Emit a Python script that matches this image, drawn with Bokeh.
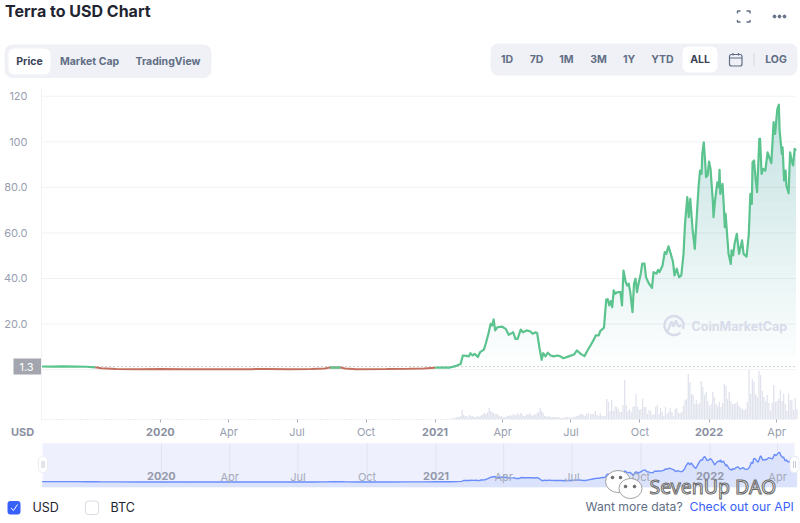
import numpy as np
import pandas as pd
from bokeh.embed import file_html
from bokeh.resources import INLINE
from bokeh.plotting import figure
from bokeh.core.properties import value
from bokeh.models import Range1d, LinearAxis, FixedTicker

# ---------- data ----------
START = pd.Timestamp("2019-07-26")
price_day = [0,15,30,45,60,72,80,100,130,160,190,220,250,280,300,330,360,378,385,399,405,420,460,490,510,525,532,545,552,559,
 562,567,570,572,575,578,582,585,590,593,596,599,601,603,605,608,614,619,623,627,629,632,635,639,642,647,652,655,659,661,664,667,669,672,675,679,683,688,692,696,703,710,714,719,724,728,732,
 737,739,743,745,750,753,755,757,759,761,763,765,768,772,774,776,779,781,783,785,788,790,792,794,796,799,801,804,806,810,814,816,820,822,824,828,831,833,836,839,842,844,847,850,853,856,858,861,863,865,868,871,873,876,878,880,881,883,885,886,888,890,892,895,896,898,901,903,904,905,908,910,911,912,916,919,920,922,924,927,930,934,936,940,943,945,947,948,950,952,954,957,958,960,962,965,968,971,973,976,978,981,983,984,987,988,990,992,993,996,998,1000,1002,1004,1006]
price_usd = [1.35,1.3,1.4,1.3,1.25,1.0,0.6,0.3,0.2,0.25,0.15,0.2,0.15,0.2,0.25,0.2,0.25,0.5,0.9,0.9,0.5,0.2,0.25,0.35,0.5,0.85,0.9,0.9,1.5,2.5,
 6.2,6.0,5.8,7.2,6.2,6.9,5.5,7.7,8.8,12.0,15.7,20.1,19.4,22.0,17.2,18.6,18.9,17.9,15.3,16.0,16.4,13.5,13.5,17.6,16.4,17.2,16.7,15.7,16.4,16.0,9.6,4.3,7.2,5.8,7.4,6.2,5.8,6.2,5.8,5.0,5.8,6.6,8.4,6.9,5.9,8.4,10.6,
 13.5,15.0,15.0,16.9,18.4,30.7,30.9,28.2,30.1,27.4,34.8,33.3,34.0,34.0,28.2,43.5,38.4,36.9,37.7,34.0,25.2,37.7,39.9,34.0,37.7,42.1,46.5,46.5,40.6,37.7,35.9,42.8,42.1,43.8,42.8,45.7,51.6,50.8,54.1,50.8,47.2,41.3,44.3,40.6,41.3,50.8,64,75.7,66.9,75,61.8,53,64,80,87.4,85.9,94.7,99.8,90.3,84.5,85.2,91.3,88.1,74.2,66.9,74.2,82.2,80,87.7,77.1,81.5,69.8,62.5,68.4,50.8,46.4,52.3,50.1,55.2,59.6,50.8,56.7,50.8,49.6,59.6,77.1,72.7,91,91.8,83.7,77.9,101.3,101.3,85.9,88.1,87.4,95.4,92.5,90.6,108.6,103.5,114.4,116.3,105,94.7,97.6,83,87.4,80.8,77.4,95.4,91.8,89.6,96.9,96.2]

volume_a = [.5,.5,1,1,1.5,2,2,3,9,4,3,3,2,4,3,3,2,2,3,2,3,4,5,6,5,7,11,8,7,6,5,5,4,3,3,2,2,2,3,3,4,3,5,4,4,6,4,6,5,3,3,5,4,6,4,3,5,4,6,7,11,8,6,3,3,2,3,2,2,2,2,2,1.5,1.5,1,1,1.5,2,2,1.5,1.5,1.5,2,2,3,3,4,5,5,4,3,5,6]
volume_b = [5,5,5,8,4,3,6,3,3,3,20,17,8,19,8,13,12,10,7,7,14,39,14,8,10,7,12,13,25,12,9,10,20,12,12,5,9,8,4,5,12,14,5,11,7,3,12,5,7,11,7,3,10,11,6,6,7,13,19,20,45,37,25,24,15]
volume_c = [19,15,16,38,32,24,27,18,13,15,27,22,15,13,17,12,16,35,33,20,27,18,15,15,16,17,13,11,10,9,10,17,49,25,40,37,25,22,48,44,28,22,18,24,16,8,16,34,17,18,20,29,18,25,15,8,25,19,19,9,21,10]
volume_spans = [(545, 729), (732, 871), (873, 1007)]

y_tick_values = [20, 40, 60, 80, 100, 120]
y_tick_labels = ["20.0", "40.0", "60.0", "80.0", "100", "120"]
month_dates = ["2020-04-01","2020-07-01","2020-10-01","2021-04-01","2021-07-01","2021-10-01","2022-04-01"]
month_labels = ["Apr","Jul","Oct","Apr","Jul","Oct","Apr"]
year_dates = ["2020-01-01","2021-01-01","2022-01-01"]
year_labels = ["2020","2021","2022"]
current_price = 1.3
range_buttons = ["1D","7D","1M","3M","1Y","YTD","ALL","LOG"]
tabs = ["Price","Market Cap","TradingView"]

# ---------- scales: the canvas is the full picture ----------
W, H = 800, 523
PX_PER_DAY = 0.7505
X0 = 40.6
DAY = 86400000.0
ms0 = START.value / 1e6
def ms(d): return ms0 + np.asarray(d, dtype=float) * DAY
def date_ms(s): return pd.Timestamp(s).value / 1e6
def xr(x0): return Range1d(ms((0 - x0) / PX_PER_DAY), ms((W - x0) / PX_PER_DAY))
def yr(zero_py, ppu): return Range1d((zero_py - H) / ppu, zero_py / ppu)

p = figure(width=W, height=H, x_range=xr(X0), y_range=yr(369.1, 2.278),
           x_axis_location=None, y_axis_location=None, toolbar_location=None,
           output_backend="svg", min_border=0, outline_line_color=None,
           background_fill_color="white", styles={"position": "absolute", "left": "0px", "top": "0px"})
p.grid.visible = False
p.extra_x_ranges = {"nx": xr(X0 + 1), "sx": Range1d(0, W)}
p.extra_y_ranges = {"ny": yr(481.5, 0.255), "vr": yr(418.5, 1.0), "sy": Range1d(H, 0)}
S = dict(x_range_name="sx", y_range_name="sy")
INK, SLATE, GREY, BLUE = "#222531", "#616e85", "#989eb0", "#3861fb"
FONT = value("Inter")

def T(x, y, s, color=SLATE, size="11px", style="normal", align="center", font=FONT, **kw):
    return p.text([x], [y], text=[s], text_color=color, text_font_size=size, text_font=font,
                  text_font_style=style, text_align=align, text_baseline="middle", **S, **kw)

x = ms(price_day)
v = np.array(price_usd, dtype=float)

# ---------- main grid ----------
x_left, x_right = ms((41 - X0) / PX_PER_DAY), ms((795 - X0) / PX_PER_DAY)
gv = [0] + y_tick_values
p.segment([x_left]*len(gv), gv, [x_right]*len(gv), gv, line_color="#f1f2f6", line_width=1)

# ---------- gradient area (stacked translucent bands) ----------
for lvl in np.arange(1.5, 120, 4.0):
    p.varea(x=x, y1=np.full_like(v, lvl), y2=np.maximum(v, lvl), fill_color="#20b46c", fill_alpha=0.0085)

# ---------- volume ----------
for vals, (a, b) in zip((volume_a, volume_b, volume_c), volume_spans):
    p.vbar(x=ms(np.linspace(a, b, len(vals))), top=vals, bottom=0, width=1.7 * DAY,
           fill_color="#e0e3ed", line_color=None, y_range_name="vr")

# ---------- current price line ----------
p.segment([x_left], [current_price], [x_right], [current_price], line_color="#9a9da6", line_width=1, line_dash="1 3")

# ---------- price line, green above / red below ----------
THRESH = 0.85
green, red = v.copy(), v.copy()
below = v < THRESH
for i in range(len(v)):
    if below[i]:
        green[i] = np.nan
    if not below[i] and not (i < len(v)-1 and below[i+1]) and not (i > 0 and below[i-1]):
        red[i] = np.nan
p.line(x, red, line_color="#c4705e", line_width=2)
p.line(x, green, line_color="#5bc38e", line_width=2.2, line_join="round")

# ---------- axes ----------
yaxis = LinearAxis(fixed_location=float(x_left), ticker=FixedTicker(ticks=y_tick_values),
                   major_label_overrides=dict(zip(y_tick_values, y_tick_labels)),
                   major_tick_line_color=None, minor_tick_line_color=None,
                   axis_line_color="#f1f2f6", bounds=(-21.6, 123.4), major_label_standoff=8,
                   major_label_text_color=GREY, major_label_text_font="Inter", major_label_text_font_size="11px")
p.add_layout(yaxis, "left")

AX_Y = (369.1 - 418.5) / 2.278
common = dict(minor_tick_line_color=None, major_tick_in=0, major_tick_out=3,
              major_tick_line_color="#a8adbb", major_label_text_font="Inter", major_label_text_font_size="11px")
mt = [date_ms(d) for d in month_dates]
yt = [date_ms(d) for d in year_dates]
xa = LinearAxis(fixed_location=AX_Y, ticker=FixedTicker(ticks=mt), major_label_overrides=dict(zip(mt, month_labels)),
                axis_line_color="#d5d9e4", axis_line_dash="1 2", bounds=(float(x_left), float(x_right)),
                major_label_text_color=GREY, major_label_standoff=3, **common)
p.add_layout(xa, "below")
xb = LinearAxis(fixed_location=AX_Y, ticker=FixedTicker(ticks=yt), major_label_overrides=dict(zip(yt, year_labels)),
                axis_line_color=None, major_label_text_color="#8a90a2", major_label_text_font_style="bold",
                major_label_standoff=6, **common)
p.add_layout(xb, "below")
T(22, 431.5, "USD", color="#8a90a2", style="bold")

# price tag
p.quad(left=[13], right=[41], top=[358], bottom=[374], fill_color="#a3a6ae", line_color=None, **S)
T(26, 366, "1.3", color="white")

# ---------- navigator ----------
p.quad(left=[42], right=[794], top=[442.7], bottom=[486.8], fill_color="#eef1fd", line_color=None, **S)
NAV_BOTTOM = (481.5 - 486.8) / 0.255
p.varea(x=x, y1=np.full_like(v, NAV_BOTTOM), y2=v, fill_color="#dbe2fb", x_range_name="nx", y_range_name="ny")
nav_top, nav_bot = (481.5 - 442.7) / 0.255, NAV_BOTTOM
all_t = mt + yt
p.segment(all_t, [nav_bot]*len(all_t), all_t, [nav_top]*len(all_t), line_color="#dfe3f2", x_range_name="nx", y_range_name="ny")
p.line(x, v, line_color="#6a8dfb", line_width=1.4, x_range_name="nx", y_range_name="ny")
NAV_AX = (481.5 - 463.5) / 0.255
nc = dict(fixed_location=NAV_AX, x_range_name="nx", y_range_name="ny", axis_line_color=None, minor_tick_line_color=None,
          major_tick_line_color=None, major_label_text_font="Inter", major_label_text_font_size="11px")
p.add_layout(LinearAxis(ticker=FixedTicker(ticks=mt), major_label_overrides=dict(zip(mt, month_labels)),
                        major_label_text_color="#a4aaba", major_label_standoff=0, **nc), "below")
p.add_layout(LinearAxis(ticker=FixedTicker(ticks=yt), major_label_overrides=dict(zip(yt, year_labels)),
                        major_label_text_color="#9298aa", major_label_text_font_style="bold", major_label_standoff=2, **nc), "below")
for hx in (42.5, 794):
    p.quad(left=[hx-4.5], right=[hx+4.5], top=[456], bottom=[472], fill_color="white", line_color="#eceef4",
           border_radius=4, level="overlay", **S)
    p.segment([hx-1, hx+1], [460.5, 460.5], [hx-1, hx+1], [467.5, 467.5], line_color="#c6cad6", line_width=1, level="overlay", **S)

# ---------- header ----------
T(4.5, 10.5, "Terra to USD Chart", color=INK, size="16px", style="bold", align="left")
p.quad(left=[4], right=[211], top=[44], bottom=[77.5], fill_color="#eff1f6", line_color=None, border_radius=8, **S)
p.quad(left=[8], right=[50], top=[48], bottom=[74], fill_color="white", line_color=None, border_radius=6, **S)
for tx, s in zip((29, 89, 167.5), tabs):
    T(tx, 60.5, s, color="#3a4256" if s == "Price" else SLATE, style="bold", size="10.5px")
p.quad(left=[490], right=[797], top=[43], bottom=[75], fill_color="#eff1f6", line_color=None, border_radius=8, **S)
p.quad(left=[682], right=[717], top=[46], bottom=[72], fill_color="white", line_color=None, border_radius=6, **S)
for bx, s in zip((506.5, 536, 566, 598, 628.5, 662, 699.5, 775.5), range_buttons):
    T(bx, 59, s, color="#3a4256" if s == "ALL" else SLATE, style="bold", size="10.5px")
# calendar and separator
p.quad(left=[729], right=[741.5], top=[54], bottom=[65.5], fill_color=None, line_color=SLATE, line_width=1.2, border_radius=2, **S)
p.segment([729, 732.5, 738], [57.5, 52.5, 52.5], [741.5, 732.5, 738], [57.5, 55, 55], line_color=SLATE, line_width=1.2, **S)
p.segment([753.5], [53], [753.5], [65], line_color="#d5d8e0", **S)
# fullscreen + more
fx = [[737,737,740],[746,749.5,749.5],[737,737,740],[746,749.5,749.5]]
fy = [[13,10.5,10.5],[10.5,10.5,13],[19.5,21.5,21.5],[21.5,21.5,19.5]]
p.multi_line(fx, fy, line_color=SLATE, line_width=1.4, **S)
p.scatter([774, 779, 784], [16, 16, 16], size=2.8, color=SLATE, **S)

# ---------- CoinMarketCap mark ----------
WM = "#d8dcea"
p.arc([673.5], [325], radius=9.5, start_angle=-0.35, end_angle=5.45, line_color=WM, line_width=2.4, **S)
p.line([667, 671, 673, 675.5, 678, 681], [331, 321, 326, 320, 326, 325], line_color=WM, line_width=2.2, **S)
T(691, 325.5, "CoinMarketCap", color=WM, size="12.5px", style="bold", align="left")

# ---------- footer ----------
p.quad(left=[7], right=[20], top=[500.5], bottom=[514], fill_color=BLUE, line_color=None, border_radius=3, **S)
p.line([10.5, 13, 17], [507.5, 510, 504], line_color="white", line_width=1, **S)
T(32, 507, "USD", color=INK, size="12.5px", align="left")
p.quad(left=[85], right=[98], top=[500.5], bottom=[514], fill_color="white", line_color="#d8dbe4", border_radius=3, **S)
T(110, 507, "BTC", color=INK, size="12.5px", align="left")
T(585, 506, "Want more data?", size="12.2px", align="left")
T(689, 506, "Check out our API", color=BLUE, size="12.2px", align="left")

# ---------- WeChat style watermark ----------
p.ellipse([617.5], [481], width=25, height=22, fill_color="white", line_color="#8a8a8a", line_width=0.8, level="overlay", **S)
p.ellipse([630], [488], width=23, height=20, fill_color="white", line_color="#8a8a8a", line_width=0.8, level="overlay", **S)
p.scatter([612, 620, 625, 634], [477, 477, 486, 486], size=2.6, color="#666666", level="overlay", **S)
T(649, 486, "SevenUp DAO", color="#f6f6f6", size="19.5px", align="left", font=value("Noto Sans"),
  text_outline_color="#6a6a6a", level="overlay")

open("out.html", "w").write(file_html(p, INLINE))
